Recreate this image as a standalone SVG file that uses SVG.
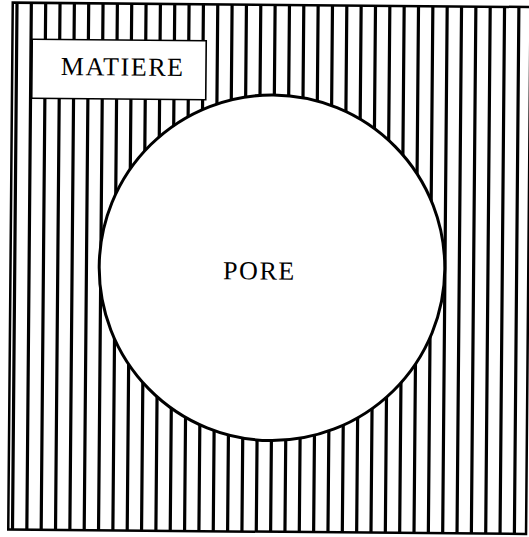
<svg xmlns="http://www.w3.org/2000/svg" width="529" height="537" viewBox="0 0 529 537">
  <style>
    .hatch { stroke: #000; stroke-width: 3.2; fill: none; }
    .frame { stroke: #000; stroke-width: 2.5; fill: none; }
    .pore { fill: #fff; stroke: #000; stroke-width: 3; }
    .box { fill: #fff; stroke: #000; stroke-width: 1.6; }
    .lbl { font-family: "Liberation Serif", "DejaVu Serif", serif; font-size: 26px; fill: #000; text-anchor: middle; letter-spacing: 1.6px; }
  </style>
  <rect width="529" height="537" fill="#fff"/>
  <g transform="rotate(0.49 265 268)">
    <g id="matiere-region">
      <path class="hatch" d="M14.75 4.8V531.7 M29.09 4.8V531.7 M43.43 4.8V531.7 M57.77 4.8V531.7 M72.11 4.8V531.7 M86.45 4.8V531.7 M100.79 4.8V531.7 M115.13 4.8V531.7 M129.47 4.8V531.7 M143.81 4.8V531.7 M158.15 4.8V531.7 M172.49 4.8V531.7 M186.83 4.8V531.7 M201.17 4.8V531.7 M215.51 4.8V531.7 M229.85 4.8V531.7 M244.19 4.8V531.7 M258.53 4.8V531.7 M272.87 4.8V531.7 M287.21 4.8V531.7 M301.55 4.8V531.7 M315.89 4.8V531.7 M330.23 4.8V531.7 M344.57 4.8V531.7 M358.91 4.8V531.7 M373.25 4.8V531.7 M387.59 4.8V531.7 M401.93 4.8V531.7 M416.27 4.8V531.7 M430.61 4.8V531.7 M444.95 4.8V531.7 M459.29 4.8V531.7 M473.63 4.8V531.7 M487.97 4.8V531.7 M502.31 4.8V531.7 M516.65 4.8V531.7"/>
      <rect class="frame" x="10.5" y="4.8" width="517.8" height="526.9"/>
    </g>
    <g id="matiere-label">
      <rect class="box" x="30.3" y="41.3" width="174" height="59"/>
      <text class="lbl" x="121" y="76.7">MATIERE</text>
    </g>
    <g id="pore">
      <circle class="pore" cx="272" cy="267.7" r="172.8"/>
      <text class="lbl" x="259.5" y="279.5">PORE</text>
    </g>
    <g id="connectors"/>
  </g>
</svg>
